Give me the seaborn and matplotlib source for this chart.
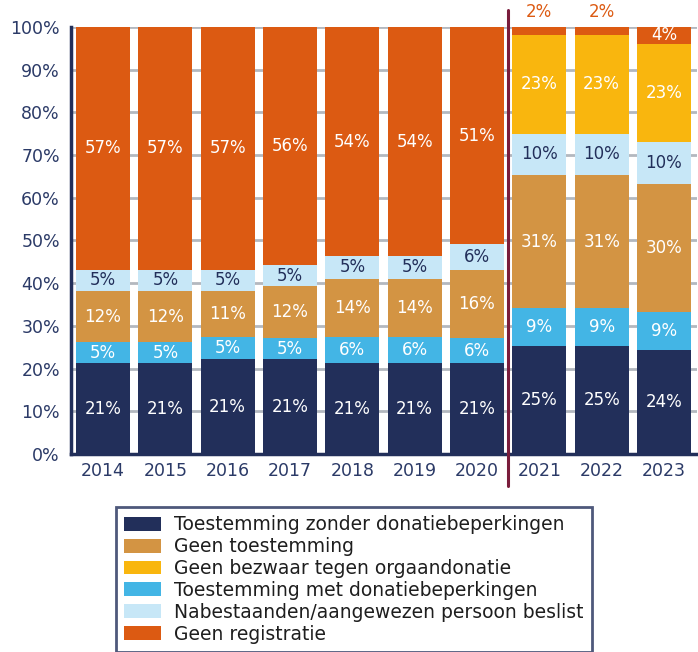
import matplotlib
matplotlib.use("Agg")
import matplotlib.pyplot as plt
import seaborn as sns
import numpy as np
import pandas as pd
from matplotlib.patches import Patch

years = ["2014", "2015", "2016", "2017", "2018", "2019", "2020", "2021", "2022", "2023"]

# segment sizes (bottom -> top)
toest_zonder = [21.3, 21.3, 22.2, 22.2, 21.3, 21.3, 21.3, 25.3, 25.3, 24.3]
toest_met = [4.9, 4.9, 5.1, 4.9, 6.1, 6.1, 5.8, 8.8, 8.8, 8.9]
geen_toest = [11.9, 11.9, 10.8, 12.2, 13.7, 13.7, 16.1, 31.2, 31.2, 30.1]
nabestaanden = [5.1, 5.1, 5.1, 4.9, 5.2, 5.2, 5.9, 9.7, 9.7, 9.8]
geen_bezwaar = [0, 0, 0, 0, 0, 0, 0, 23.2, 23.2, 23.0]
geen_reg = [56.8, 56.8, 56.8, 55.8, 53.7, 53.7, 50.9, 1.8, 1.8, 3.9]

# printed labels
lbl_zonder = ["21%"] * 7 + ["25%", "25%", "24%"]
lbl_met = ["5%", "5%", "5%", "5%", "6%", "6%", "6%", "9%", "9%", "9%"]
lbl_geen_toest = ["12%", "12%", "11%", "12%", "14%", "14%", "16%", "31%", "31%", "30%"]
lbl_nabest = ["5%", "5%", "5%", "5%", "5%", "5%", "6%", "10%", "10%", "10%"]
lbl_bezwaar = ["", "", "", "", "", "", "", "23%", "23%", "23%"]
lbl_reg = ["57%", "57%", "57%", "56%", "54%", "54%", "51%", "2%", "2%", "4%"]

NAVY = "#222F5A"
TAN = "#D39443"
YELLOW = "#F9B60E"
BLUE = "#43B5E5"
LIGHT = "#C7E7F7"
ORANGE = "#DC5A12"
MAROON = "#7A1D3C"
GRID = "#B3B8BF"

layers = [
    ("Toestemming zonder donatiebeperkingen", toest_zonder, lbl_zonder, NAVY, "white"),
    ("Toestemming met donatiebeperkingen", toest_met, lbl_met, BLUE, "white"),
    ("Geen toestemming", geen_toest, lbl_geen_toest, TAN, "white"),
    ("Nabestaanden/aangewezen persoon beslist", nabestaanden, lbl_nabest, LIGHT, NAVY),
    ("Geen bezwaar tegen orgaandonatie", geen_bezwaar, lbl_bezwaar, YELLOW, "white"),
    ("Geen registratie", geen_reg, lbl_reg, ORANGE, "white"),
]

sns.set_style("white")
plt.rcParams["font.family"] = ["DejaVu Sans"]

fig = plt.figure(figsize=(6.98, 6.52), dpi=100)
ax = fig.add_axes([71 / 698, 1 - 454 / 652, (697 - 71) / 698, (454 - 27) / 652])

ax.set_axisbelow(True)
ax.yaxis.grid(True, color=GRID, linewidth=2)

vals = np.array([l[1] for l in layers], dtype=float)
cums = np.cumsum(vals, axis=0)
bottoms = cums - vals

# draw cumulative bars from top layer down
for i in range(len(layers) - 1, -1, -1):
    df = pd.DataFrame({"year": years, "v": cums[i]})
    sns.barplot(data=df, x="year", y="v", color=layers[i][3], width=0.867,
                saturation=1, ax=ax, edgecolor="none", linewidth=0, zorder=2)

for i, (name, v, lbls, col, tcol) in enumerate(layers):
    for j in range(len(years)):
        if not lbls[j]:
            continue
        if name == "Geen registratie" and v[j] < 3:
            ax.text(j, 103.6, lbls[j], ha="center", va="center", color=ORANGE,
                    fontsize=12, clip_on=False)
        else:
            ax.text(j, bottoms[i][j] + v[j] / 2, lbls[j], ha="center", va="center",
                    color=tcol, fontsize=12, zorder=5)

ax.set_ylim(0, 100)
ax.set_xlim(-0.514, 9.53)
ax.set_yticks(range(0, 101, 10))
ax.set_yticklabels([f"{t}%" for t in range(0, 101, 10)])
ax.tick_params(axis="both", length=0, labelsize=12.5, colors="#2B3A67", pad=6)
ax.tick_params(axis="y", pad=8)
ax.set_xlabel("")
ax.set_ylabel("")

for s in ["top", "right"]:
    ax.spines[s].set_visible(False)
ax.spines["left"].set_color(NAVY)
ax.spines["left"].set_linewidth(2.5)
ax.spines["bottom"].set_color(NAVY)
ax.spines["bottom"].set_linewidth(2.5)

# separator line
ax.plot([6.5, 6.5], [1.04, -0.075], color=MAROON, linewidth=2.2,
        transform=ax.get_xaxis_transform(), clip_on=False, zorder=6)

legend_order = [0, 2, 4, 1, 3, 5]
handles = [Patch(facecolor=layers[k][3], edgecolor="none") for k in legend_order]
labels = [layers[k][0] for k in legend_order]
leg = fig.legend(handles, labels, loc="upper left", bbox_to_anchor=(116 / 698, 1 - 507 / 652),
                 frameon=True, fancybox=False, fontsize=13.5, labelspacing=0.15,
                 handlelength=1.95, handleheight=0.75, handletextpad=0.7,
                 borderpad=0.45, borderaxespad=0)
leg.get_frame().set_edgecolor(NAVY)
leg.get_frame().set_linewidth(2)
for t in leg.get_texts():
    t.set_color("#1E1E1E")

fig.savefig("out.png", dpi=100)
